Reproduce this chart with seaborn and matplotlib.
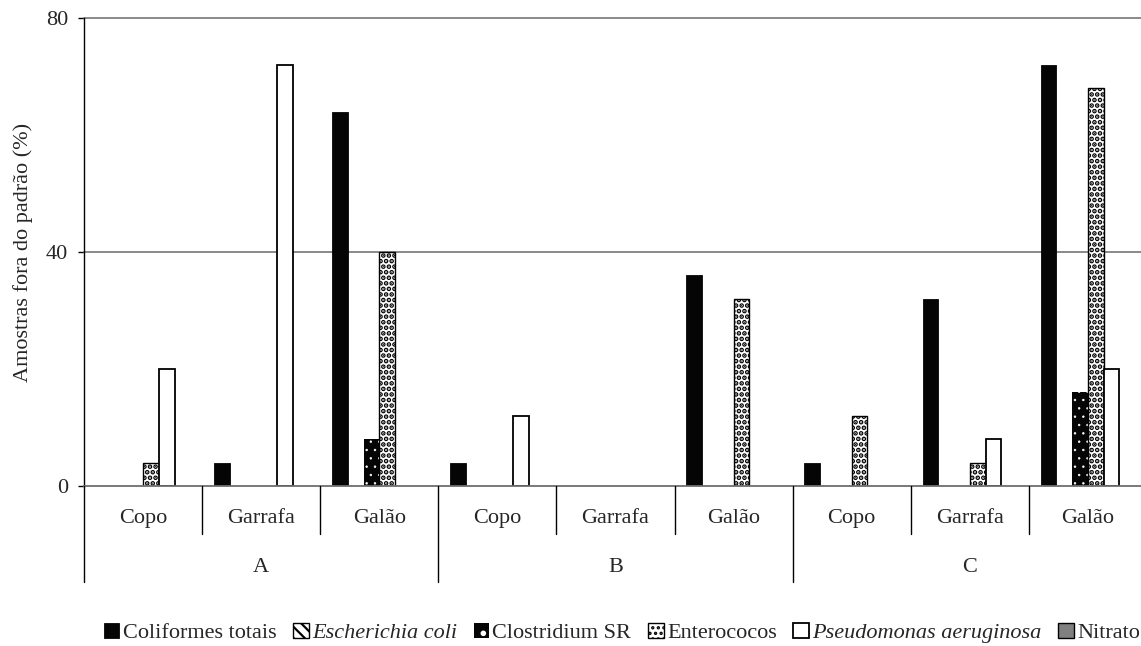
import matplotlib
matplotlib.use("Agg")
import matplotlib.pyplot as plt
import matplotlib.transforms as mtransforms
from matplotlib.patches import Patch
import pandas as pd
import seaborn as sns

# Sampling sites and container types
locais = ["A", "B", "C"]
recipientes = ["Copo", "Garrafa", "Galão"]

# Parameters (legend order)
series = ["Coliformes totais", "Escherichia coli", "Clostridium SR",
          "Enterococos", "Pseudomonas aeruginosa", "Nitrato"]

# Samples outside the standard (%), one value per site/container
coliformes = [0, 4, 64, 4, 0, 36, 4, 32, 72]
escherichia = [0, 0, 0, 0, 0, 0, 0, 0, 0]
clostridium = [0, 0, 8, 0, 0, 0, 0, 0, 16]
enterococos = [4, 0, 40, 0, 0, 32, 12, 4, 68]
pseudomonas = [20, 72, 0, 12, 0, 0, 0, 8, 20]
nitrato = [0, 0, 0, 0, 0, 0, 0, 0, 0]

y_ticks = [0, 40, 80]
y_label = "Amostras fora do padrão (%)"

valores = [coliformes, escherichia, clostridium, enterococos, pseudomonas, nitrato]
categorias = [f"{l}|{r}" for l in locais for r in recipientes]

df = pd.DataFrame(
    [(cat, s, v) for s, vals in zip(series, valores) for cat, v in zip(categorias, vals)],
    columns=["categoria", "serie", "valor"],
)

sns.set_style("white")
plt.rcParams["font.family"] = ["Liberation Serif", "DejaVu Serif"]
plt.rcParams["hatch.linewidth"] = 1.6

FS = 16

# visual style of each parameter: face, edge/hatch colour, hatch, line widths
estilos = {
    "Coliformes totais": dict(facecolor="#050505", edgecolor="#050505", hatch=None, linewidth=0.6, hlw=1.0),
    "Escherichia coli": dict(facecolor="white", edgecolor="black", hatch="\\\\\\", linewidth=1.0, hlw=1.6),
    "Clostridium SR": dict(facecolor="#050505", edgecolor="white", hatch="..", linewidth=0.0, hlw=0.5),
    "Enterococos": dict(facecolor="white", edgecolor="black", hatch="...", linewidth=1.0, hlw=2.4),
    "Pseudomonas aeruginosa": dict(facecolor="white", edgecolor="black", hatch=None, linewidth=1.3, hlw=1.0),
    "Nitrato": dict(facecolor="#808080", edgecolor="black", hatch=None, linewidth=1.0, hlw=1.0),
}

marcadores = ["#e6194b", "#3cb44b", "#4363d8", "#f58231", "#911eb4", "#46f0f0"]
paleta = dict(zip(series, marcadores))
por_cor = {matplotlib.colors.to_hex(c): s for s, c in paleta.items()}

fig = plt.figure(figsize=(11.41, 6.46), dpi=100)
ax = fig.add_axes([84 / 1141, 1 - 486 / 646, 1063 / 1141, 468 / 646])

sns.barplot(data=df, x="categoria", y="valor", hue="serie", order=categorias,
            hue_order=series, palette=paleta, saturation=1, width=0.8,
            legend=False, ax=ax)


def aplicar(patch, st):
    patch.set_facecolor(st["facecolor"])
    patch.set_edgecolor(st["edgecolor"])
    patch.set_hatch(st["hatch"])
    patch.set_linewidth(st["linewidth"])
    if hasattr(patch, "set_hatch_linewidth"):
        patch.set_hatch_linewidth(st["hlw"])


for bar in ax.patches:
    nome = por_cor.get(matplotlib.colors.to_hex(bar.get_facecolor()))
    if nome is None:
        continue
    aplicar(bar, estilos[nome])
    bar.set_zorder(3)
    if bar.get_height() == 0:
        bar.set_visible(False)

ax.set_xlim(-0.5, len(categorias) - 0.5)
ax.set_ylim(0, 80)
ax.set_yticks(y_ticks)
ax.set_yticklabels([str(t) for t in y_ticks], fontsize=FS)
ax.tick_params(axis="y", direction="out", length=4.5, width=1.0, color="black", pad=7, left=True)
ax.set_xticks([])
ax.set_xlabel("")
ax.set_ylabel(y_label, fontsize=FS, labelpad=9)

ax.grid(False)
for y in y_ticks[1:]:
    ax.axhline(y, color="#808080", linewidth=1.3, zorder=1, clip_on=False)

for side in ["top", "right"]:
    ax.spines[side].set_visible(False)
ax.spines["left"].set_color("black")
ax.spines["left"].set_linewidth(1.0)
ax.spines["bottom"].set_color("#6e6e6e")
ax.spines["bottom"].set_linewidth(1.3)
ax.spines["bottom"].set_zorder(4)

# two-level category axis below the plot
trans = mtransforms.blended_transform_factory(ax.transData, ax.transAxes)
n_rec = len(recipientes)
for k in range(len(categorias) + 1):
    x = k - 0.5
    fundo = -0.205 if k % n_rec == 0 else -0.1026
    ax.plot([x, x], [0, fundo], transform=trans, color="black", linewidth=1.0,
            clip_on=False, zorder=5)

for i, cat in enumerate(categorias):
    ax.text(i, -0.0705, cat.split("|")[1], transform=trans, ha="center",
            va="center", fontsize=FS)
for j, local in enumerate(locais):
    ax.text(j * n_rec + (n_rec - 1) / 2, -0.175, local, transform=trans,
            ha="center", va="center", fontsize=FS)

handles = []
for s in series:
    h = Patch()
    aplicar(h, estilos[s])
    if s == "Clostridium SR":
        h.set_hatch(".")
        h.set_linewidth(0.0)
    handles.append(h)

leg = fig.legend(handles, series, loc="center", bbox_to_anchor=(0.545, 1 - 633 / 646),
                 ncol=6, frameon=False, fontsize=FS, handlelength=0.7,
                 handleheight=0.7, handletextpad=0.15, columnspacing=0.75,
                 borderaxespad=0)
for txt in leg.get_texts():
    if txt.get_text() in ("Escherichia coli", "Pseudomonas aeruginosa"):
        txt.set_fontstyle("italic")

fig.savefig("out.png", dpi=100)
